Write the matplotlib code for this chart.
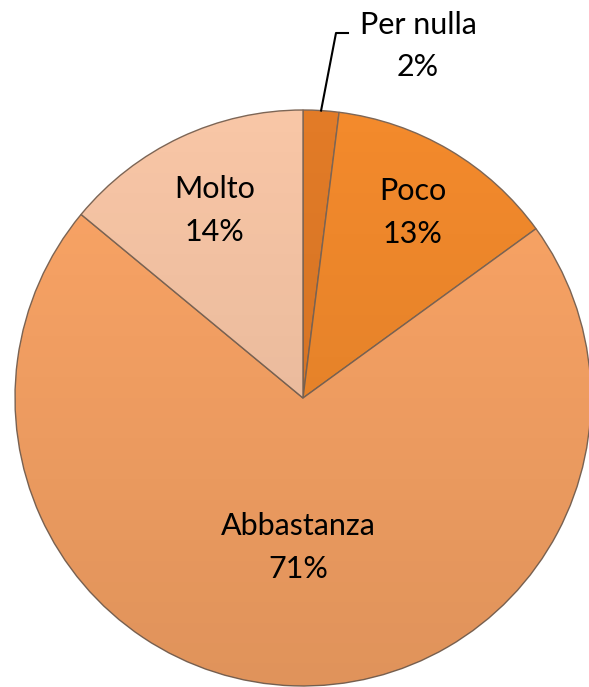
import numpy as np
import matplotlib.pyplot as plt
from matplotlib.patches import Circle

# Risposte alla domanda (percentuali)
categorie = ['Per nulla', 'Poco', 'Abbastanza', 'Molto']
valori = [2, 13, 71, 14]
colori = ['#E27B27', '#F38A2C', '#FBA566', '#F8C6A6']

plt.rcParams['font.family'] = ['Lato', 'DejaVu Sans']

fig = plt.figure(figsize=(5.89, 6.87), dpi=100)
ax = fig.add_axes([0, 0, 1, 1])

cx, cy, r = 303, 289, 288
wedges, _ = ax.pie(valori, colors=colori, startangle=90, counterclock=False,
                   center=(cx, cy), radius=r, frame=True,
                   wedgeprops=dict(edgecolor='#7d6656', linewidth=1.0))
ax.set_xlim(0, 589)
ax.set_ylim(0, 687)
ax.set_aspect('equal')
ax.axis('off')

# sfumatura verticale: più scuro verso il basso
h = np.linspace(0, 1, 256)[:, None]
ombra = np.zeros((256, 2, 4))
ombra[..., 3] = 0.11 * (1 - h)
img = ax.imshow(ombra, extent=(cx - r, cx + r, cy - r, cy + r),
                origin='lower', zorder=3, aspect='auto')
img.set_clip_path(Circle((cx, cy), r, transform=ax.transData))

# etichette dentro le fette
distanze = [None, 0.75, 0.52, 0.72]
for w, nome, v, d in zip(wedges, categorie, valori, distanze):
    if d is None:
        continue
    ang = np.deg2rad((w.theta1 + w.theta2) / 2)
    x = cx + d * r * np.cos(ang)
    y = cy + d * r * np.sin(ang)
    ax.text(x, y, f'{nome}\n{v}%', ha='center', va='center', fontsize=22,
            linespacing=1.65, zorder=5)

# etichetta esterna con linea guida per la fetta piccola
w0 = wedges[0]
a0 = np.deg2rad((w0.theta1 + w0.theta2) / 2)
px, py = cx + r * np.cos(a0), cy + r * np.sin(a0)
ax.plot([px, 336, 348], [py, 654, 654], color='black', lw=1.5, zorder=5)
ax.text(418, 641, f'{categorie[0]}\n{valori[0]}%', ha='center', va='center',
        fontsize=22, linespacing=1.65, zorder=5)

fig.savefig('out.png', dpi=100)
